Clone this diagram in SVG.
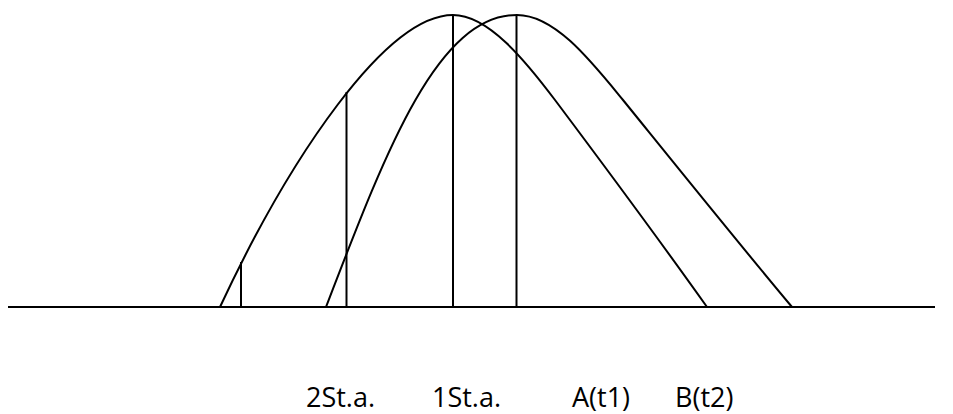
<svg xmlns="http://www.w3.org/2000/svg" width="953" height="414" viewBox="0 0 953 414">
<style>
.ln{stroke:#000;stroke-width:2;fill:none}
.lbl{font-family:"Open Sans","Liberation Sans",sans-serif;font-size:27px;fill:#000}
</style>
<rect width="953" height="414" fill="#fff"/>
<g id="connectors">
<line class="ln" x1="8" y1="307" x2="935" y2="307"/>
<path id="curveA" class="ln" d="M220,307 C290,157 386,15 453,15 C488,15 525,60 555,100 C600,160 670,255 707,307"/>
<path id="curveB" class="ln" d="M326,307 C386,151 437,15 517,15 C555,15 591,61 623,100 C670,158 740,245 792,307"/>
<line class="ln" x1="241" y1="262" x2="241" y2="307"/>
<line class="ln" x1="346.5" y1="92" x2="346.5" y2="307"/>
<line class="ln" x1="453" y1="15" x2="453" y2="307"/>
<line class="ln" x1="516.5" y1="15" x2="516.5" y2="307"/>
</g>
<g id="label-2sta"><text class="lbl" x="306" y="407">2St.a.</text></g>
<g id="label-1sta"><text class="lbl" x="432" y="407">1St.a.</text></g>
<g id="label-a"><text class="lbl" x="572" y="407">A(t1)</text></g>
<g id="label-b"><text class="lbl" x="675" y="407">B(t2)</text></g>
</svg>
